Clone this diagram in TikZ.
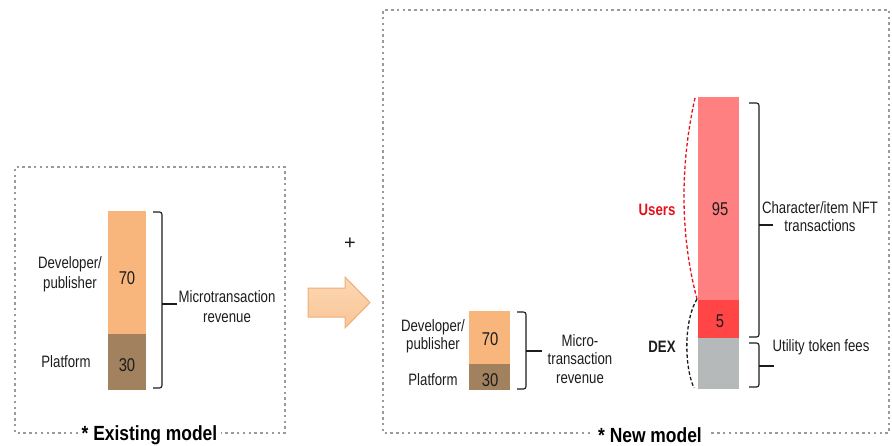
\documentclass[tikz,border=0pt]{standalone}
\usepackage{fontspec}
\setmainfont{Liberation Sans}[FakeStretch=0.8]
\newfontfamily\titlefont{Liberation Sans}[FakeStretch=0.85]
\newfontfamily\plainfont{Liberation Sans}
\definecolor{peach}{HTML}{F8B67C}
\definecolor{brownbar}{HTML}{A2815F}
\definecolor{pinkbar}{HTML}{FF8080}
\definecolor{redbar}{HTML}{FF4545}
\definecolor{graybar}{HTML}{B6B9B9}
\definecolor{dotgray}{HTML}{9A9A9A}
\definecolor{ink}{HTML}{1C1C1C}
\definecolor{userred}{HTML}{E3121B}
\definecolor{arrowtop}{HTML}{FCD8B4}
\definecolor{arrowbot}{HTML}{F9C596}
\definecolor{arrowedge}{HTML}{EFAE78}
\tikzset{
  bar/.style={draw=none, inner sep=0pt, anchor=north west},
  num/.style={text=ink, inner sep=0pt, font=\fontsize{18.5}{20}\selectfont},
  lbl/.style={text=ink, align=center, inner sep=0pt},
  brace/.style={draw=ink, line width=1.1pt, rounded corners=2.5pt},
  frame/.style={draw=dotgray, line width=2.6pt, dash pattern=on 2.5pt off 3.3pt},
  title/.style={font=\titlefont\fontsize{20.5}{22}\selectfont\bfseries, text=black, inner sep=0pt}
}
\begin{document}
\begin{tikzpicture}[x=1pt, y=-1pt, font=\fontsize{16.5}{19}\selectfont]
\useasboundingbox (0,0) rectangle (892,445);

% ---------- existing model ----------
\node[title] (exist) at (149.5,435) {* Existing model};
\draw[frame] (78,433) -- (15,433) -- (15,167) -- (285,167) -- (285,433) -- (221,433);

\node[bar, fill=peach, minimum width=38pt, minimum height=123pt] (dev1) at (108,211) {};
\node[bar, fill=brownbar, minimum width=38pt, minimum height=56pt] (plat1) at (108,334) {};
\node[num] (n70a) at (127,278) {70};
\node[num] (n30a) at (127,365) {30};
\node[lbl, font=\fontsize{16.5}{19.5}\selectfont] (devl1) at (70,274) {Developer/\\publisher};
\node[lbl] (platl1) at (66,362) {Platform};
\draw[brace] (153,212) -| (162,388) -- (153,388);
\draw[brace] (162,304) -- (177,304);
\node[lbl, font=\fontsize{16.5}{20}\selectfont] (rev1) at (227,307) {Microtransaction\\revenue};

% ---------- transition ----------
\node[text=ink, font=\plainfont\fontsize{20}{22}\selectfont, inner sep=0pt] (plus) at (350,244) {+};
\draw[arrowedge, line width=1pt, top color=arrowtop, bottom color=arrowbot]
  (308,288) -- (345,288) -- (345,277) -- (370,302.5) -- (345,328) -- (345,317) -- (308,317) -- cycle;

% ---------- new model ----------
\node[title] (newm) at (650,435) {* New model};
\draw[frame] (590,433) -- (383,433) -- (383,10) -- (889,10) -- (889,433) -- (710,433);

% micro-transaction stack
\node[bar, fill=peach, minimum width=41pt, minimum height=53pt] (dev2) at (469,311) {};
\node[bar, fill=brownbar, minimum width=41pt, minimum height=26pt] (plat2) at (469,364) {};
\node[num] (n70b) at (490,339) {70};
\node[num] (n30b) at (490,380) {30};
\node[lbl, font=\fontsize{16.5}{17.5}\selectfont] (devl2) at (433,336) {Developer/\\publisher};
\node[lbl] (platl2) at (433,380) {Platform};
\draw[brace] (517,312) -| (526,389) -- (517,389);
\draw[brace] (526,351) -- (542,351);
\node[lbl, font=\fontsize{16.5}{18.3}\selectfont] (rev2) at (580,359) {Micro-\\transaction\\revenue};

% NFT / token stack
\node[bar, fill=pinkbar, minimum width=41pt, minimum height=203pt] (users) at (698,97) {};
\node[bar, fill=redbar, minimum width=41pt, minimum height=38pt] (fee) at (698,300) {};
\node[bar, fill=graybar, minimum width=41pt, minimum height=51pt] (dex) at (698,338) {};
\node[num] (n95) at (720,209) {95};
\node[num] (n5) at (720,321) {5};

\coordinate (utop) at (695,98);
\coordinate (umid) at (697,299);
\coordinate (dbot) at (694,388);
\draw[userred, line width=1.3pt, dash pattern=on 3.5pt off 2.2pt]
  (utop) .. controls (680,165) and (680,235) .. (umid);
\draw[ink, line width=1.3pt, dash pattern=on 3.5pt off 2.2pt]
  (umid) .. controls (684,320) and (684,366) .. (dbot);
\node[text=userred, font=\fontsize{16.5}{19}\selectfont\bfseries, inner sep=0pt] (usersl) at (657,210) {Users};
\node[text=ink, font=\fontsize{16.5}{19}\selectfont\bfseries, inner sep=0pt] (dexl) at (662,347) {DEX};

\draw[brace] (749,103) -| (759,337) -- (749,337);
\draw[brace] (759,225) -- (773,225);
\node[lbl, font=\fontsize{16.5}{18.7}\selectfont] (nftl) at (820,216.5) {Character/item NFT\\transactions};
\draw[brace] (749,343) -| (759,387) -- (749,387);
\draw[brace] (759,366) -- (774,366);
\node[lbl] (utill) at (821,347.5) {Utility token fees};
\end{tikzpicture}
\end{document}
